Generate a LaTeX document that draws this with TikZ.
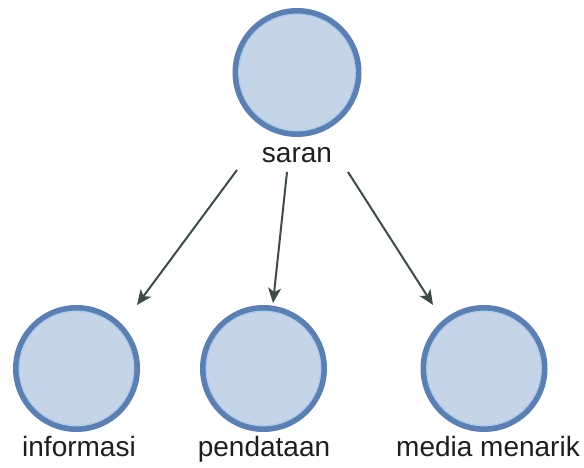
\documentclass[tikz,border=0pt]{standalone}
\usepackage{fontspec}
\setmainfont{Liberation Sans}
\usetikzlibrary{arrows.meta}
\definecolor{ringc}{HTML}{5B7FB0}
\definecolor{innerc}{HTML}{AACAF0}
\definecolor{fillc}{HTML}{C5D4E7}
\definecolor{arrc}{HTML}{3D4B4B}
\definecolor{txtc}{HTML}{1E1E1E}
\tikzset{
  ent/.style={circle, draw=ringc, line width=6pt, fill=fillc, inner sep=0pt, minimum size=#1,
    append after command={\pgfextra{}}},
  lbl/.style={anchor=base, text=txtc, font=\fontsize{28}{32}\selectfont, inner sep=0pt},
  conn/.style={draw=arrc, line width=2pt, -{Stealth[length=15pt,width=13pt,inset=4pt]}}
}
\begin{document}
\begin{tikzpicture}[x=1pt,y=1pt]
\useasboundingbox (0,0) rectangle (584,468);
% entities
\node[ent=123pt] (saran) at (297,395.5) {};
\node[ent=121pt] (info) at (76.5,99.5) {};
\node[ent=121pt] (pend) at (263.5,99.5) {};
\node[ent=121pt] (media) at (484,99.5) {};
% inner light rings
\foreach \n/\r in {saran/58.3, info/57.3, pend/57.3, media/57.3}
  \draw[innerc, line width=1.2pt] (\n.center) circle (\r);
% labels
\node[lbl] (lsaran) at (297,305) {saran};
\node[lbl] (linfo) at (79,11) {informasi};
\node[lbl] (lpend) at (264,11) {pendataan};
\node[lbl] (lmedia) at (488,11) {media menarik};
% connector ends
\coordinate (s1) at (237,298);
\coordinate (s2) at (287,296);
\coordinate (s3) at (348,296);
\coordinate (e1) at (137,163);
\coordinate (e2) at (273,165);
\coordinate (e3) at (433,163);
\draw[conn] (s1) -- (e1);
\draw[conn] (s2) -- (e2);
\draw[conn] (s3) -- (e3);
\end{tikzpicture}
\end{document}
